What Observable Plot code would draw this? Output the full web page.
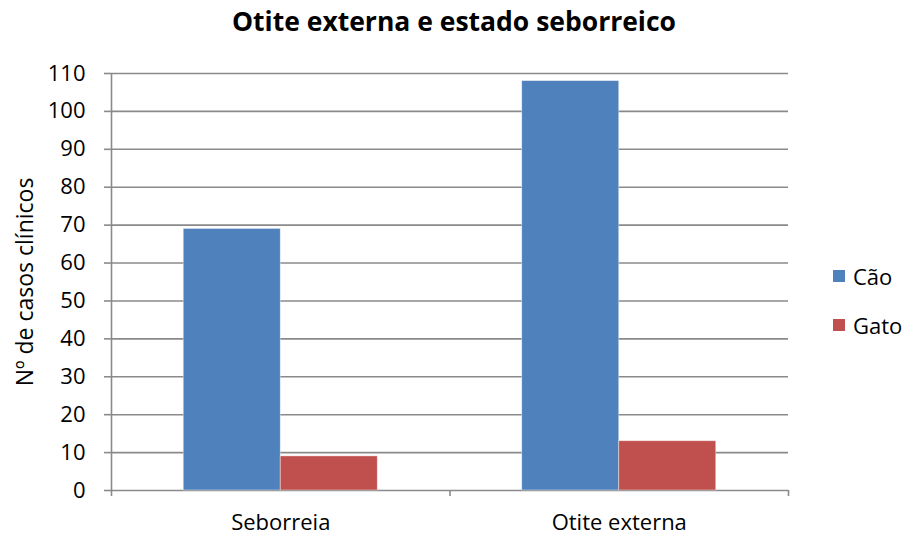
<!DOCTYPE html>
<html>
<head>
<meta charset="utf-8">
<script src="https://cdn.jsdelivr.net/npm/d3@7"></script>
<script src="https://cdn.jsdelivr.net/npm/@observablehq/plot@0.6"></script>
<style>
  html, body { margin: 0; padding: 0; background: #fff; }
  body { font-family: "Open Sans", sans-serif; width: 908px; height: 537px; overflow: hidden; }
  #wrap { position: relative; width: 908px; height: 537px; }
  #title { position: absolute; left: 0; top: 0; width: 908px; height: 40px; text-align: center;
           font-weight: bold; font-size: 26.5px; line-height: 42px; color: #000; }
  #chart { position: absolute; left: 0; top: 40px; }
  #legend { position: absolute; left: 833px; top: 258px; font-size: 22px; color: #000; }
  .item { display: flex; align-items: center; height: 36px; margin-bottom: 13px; }
  .sw { width: 12px; height: 12px; margin-right: 8px; }
</style>
</head>
<body>
<div id="wrap">
  <div id="title">Otite externa e estado seborreico</div>
  <div id="chart"></div>
  <div id="legend"></div>
</div>
<script>
const categories = ["Seborreia", "Otite externa"];
const series = ["Cão", "Gato"];
const caoValues = [69, 108];
const gatoValues = [9, 13];
const yTicks = [0, 10, 20, 30, 40, 50, 60, 70, 80, 90, 100, 110];
const colors = ["#4F81BD", "#C0504D"];

const barFrac = 0.2866; // bar width as fraction of category band
const seriesValues = [caoValues, gatoValues];
const data = [];
categories.forEach((c, i) => {
  series.forEach((s, j) => {
    const x1 = i + 0.5 + (j - series.length / 2) * barFrac;
    data.push({category: c, series: s, value: seriesValues[j][i], x1, x2: x1 + barFrac});
  });
});

const chart = Plot.plot({
  width: 800,
  height: 497,
  marginTop: 33,
  marginBottom: 47,
  marginLeft: 111,
  marginRight: 12,
  style: {fontFamily: "Open Sans, sans-serif", color: "#000", background: "#fff"},
  x: {domain: [0, categories.length]},
  y: {domain: [0, 110]},
  color: {domain: series, range: colors},
  marks: [
    Plot.ruleY(yTicks, {stroke: "#8a8a8a", strokeWidth: 1.6}),
    Plot.rectY(data, {x1: "x1", x2: "x2", y: "value", fill: "series", stroke: "#ffffff", strokeOpacity: 0.5, strokeWidth: 0.8}),
    Plot.ruleX([0], {stroke: "#8a8a8a", strokeWidth: 1.6}),
    Plot.axisY({ticks: yTicks, tickSize: 7, tickPadding: 19, fontSize: 22, label: null, stroke: "#8a8a8a", strokeWidth: 1.6}),
    Plot.axisX({ticks: d3.range(categories.length + 1), tickSize: 6, tickFormat: () => "", label: null, stroke: "#8a8a8a", strokeWidth: 1.6}),
    Plot.axisX({ticks: categories.map((c, i) => i + 0.5), tickSize: 0, tickPadding: 24, tickFormat: d => categories[Math.floor(d)], fontSize: 22, label: null}),
    Plot.text(["Nº de casos clínicos"], {frameAnchor: "left", textAnchor: "middle", lineAnchor: "middle", rotate: -90, dx: -86, fontSize: 23, fill: "#000"})
  ]
});
document.getElementById("chart").appendChild(chart);

const legend = document.getElementById("legend");
series.forEach((s, j) => {
  const item = document.createElement("div");
  item.className = "item";
  const sw = document.createElement("div");
  sw.className = "sw";
  sw.style.background = colors[j];
  const label = document.createElement("span");
  label.textContent = s;
  item.appendChild(sw);
  item.appendChild(label);
  legend.appendChild(item);
});
</script>
</body>
</html>
